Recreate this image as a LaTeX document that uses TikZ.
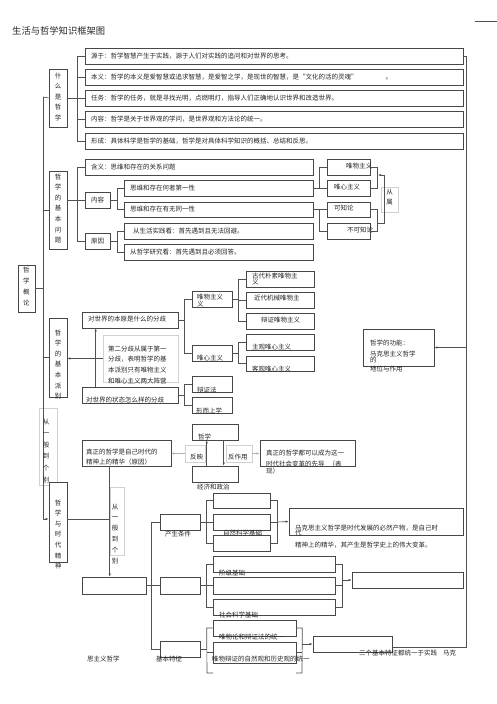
\documentclass[tikz,border=0pt]{standalone}
\usepackage{fontspec}
\setmainfont{Noto Sans CJK SC}
\usetikzlibrary{positioning,fit,shadows,arrows.meta}

% 方框：名称、左上角、右下角
\newcommand{\kuang}[6][]{\node[kuang,#1,fit={(#3,#4) (#5,#6)}] (#2) {};}

\begin{document}
\begin{tikzpicture}[
    x=1pt, y=-1pt,
    kuang/.style={
        draw=black!72,
        line width=0.65pt,
        inner sep=0pt,
        fill=white,
        drop shadow={shadow xshift=0.9pt, shadow yshift=-0.9pt, fill=black!40, opacity=1}
    },
    danke/.style={draw=black!18, line width=0.5pt, inner sep=0pt},
    wen/.style={font=\fontsize{6.5}{8}\selectfont, inner sep=0pt, anchor=west, align=left, text=black!85},
    shu/.style={font=\fontsize{6.5}{10.6}\selectfont, inner sep=0pt, anchor=north, align=center, text=black!85},
    xian/.style={draw=black!68, line width=0.65pt},
    jian/.style={xian, -{Latex[length=3pt,width=2.4pt]}},
    qian/.style={draw=black!30, line width=0.5pt, -{Latex[length=3pt,width=2.4pt]}}
]
\fill[white] (0,0) rectangle (497,704);
\useasboundingbox (0,0) rectangle (497,704);

\node[wen, font=\fontsize{9.3}{11}\selectfont] (biaoti) at (12,31) {生活与哲学知识框架图};
\draw[xian] (475,21) -- (497,21);

% 什么是哲学
\kuang{shenme}{49}{69}{67}{127}
\kuang{yuanyu}{85}{48}{463}{64}
\kuang{benyi}{85}{69}{463}{85}
\kuang{renwu}{85}{90}{463}{106}
\kuang{neirong}{85}{111}{463}{127}
\kuang{xingcheng}{85}{133}{463}{149}

% 哲学的基本问题
\kuang{wenti}{49}{171}{67}{249}
\kuang{hanyi}{85}{159}{313}{175}
\kuang{nr}{85}{192}{110}{208}
\kuang{yy}{85}{233}{110}{249}
\kuang{diyi}{124}{180}{313}{196}
\kuang{tongyi}{124}{202}{313}{217}
\kuang{shijian}{124}{223}{313}{239}
\kuang{yanjiu}{124}{244}{313}{260}
\kuang{weiwu}{327}{159}{370}{175}
\kuang{weixin}{327}{180}{370}{196}
\kuang{kezhi}{327}{202}{370}{217}
\kuang{bukezhi}{327}{223}{370}{239}
\node[danke, fit={(381,187) (398,212)}] (congshu) {};

% 哲学概论
\kuang{gailun}{18}{265}{35}{312}

% 哲学的基本派别
\kuang{paibie}{49}{318}{67}{397}
\kuang{benyuan}{82}{312}{178}{328}
\kuang{zhuangtai}{82}{387}{178}{403}
\node[danke, fit={(103,335) (178,382)}] (fenqi) {};
\kuang{wm}{192}{291}{232}{307}
\kuang{wx}{192}{345}{232}{361}
\kuang{gudai}{246}{271}{314}{287}
\kuang{jindai}{246}{292}{314}{308}
\kuang{bianzheng}{246}{313}{314}{329}
\kuang{zhuguan}{246}{334}{314}{350}
\kuang{keguan}{246}{356}{314}{371}
\kuang{bzf}{192}{376}{232}{392}
\kuang{xesx}{192}{397}{232}{413}
\kuang{gongneng}{363}{329}{434}{366}

% 哲学与时代精神
\node[danke, fit={(39,408) (57,485)}] (yiban) {};
\kuang{zhenzheng}{82}{440}{171}{466}
\kuang{zhexue}{192}{424}{238}{440}
\kuang{jingji}{192}{466}{238}{482}
\node[danke, fit={(185,445) (205,462)}] (fanying) {};
\node[danke, fit={(226,445) (252,462)}] (fanzuoyong) {};
\kuang{xiandao}{260}{440}{355}{466}
\kuang{shidai}{49}{482}{67}{562}
\node[danke, fit={(110,487) (124,555)}] (yiban2) {};
\kuang{makesi}{82}{577}{146}{594}
\kuang{chansheng}{160}{514}{200}{530}
\kuang{zhongjian}{160}{577}{200}{594}
\kuang{tezheng}{160}{641}{200}{657}
\kuang{ka}{213}{493}{270}{508}
\kuang{ziran}{213}{514}{270}{530}
\kuang{kc}{213}{535}{270}{551}
\kuang{biran}{289}{508}{463}{535}
\kuang{jieji}{213}{556}{335}{572}
\kuang{ke}{213}{577}{335}{594}
\kuang{shehui}{213}{599}{335}{615}
\kuang{kj}{352}{572}{463}{588}
\kuang{tongyiA}{213}{620}{296}{636}
\kuang{tongyiB}{213}{642}{296}{663}
\kuang{sange}{313}{636}{392}{652}

% 主干
\coordinate (zhu) at (43,97);
\coordinate (sd-in) at ([yshift=3pt]shidai.west);
\draw[xian] (shenme.west) -- (zhu);
\draw[jian] (zhu) |- (sd-in);
\draw[xian] (wenti.west) -- (wenti.west -| zhu);
\draw[xian] (gailun.east) -- (gailun.east -| zhu);
\draw[xian] (paibie.west) -- (paibie.west -| zhu);

% 什么是哲学的连线
\draw[xian] (yuanyu.west) -- ++(-7,0) |- (xingcheng.west);
\foreach \kk in {benyi,renwu,neirong} \draw[xian] (\kk.west) -- ++(-7,0);
\draw[xian] (shenme.east) -- (shenme.east -| yuanyu.west);
\coordinate (you) at (466,647);
\draw[xian] (yuanyu.east) -| (you) -- (you -| sange.east);
\draw[jian] (gongneng.east -| you) -- (gongneng.east);

% 基本问题的连线
\draw[xian] (hanyi.west) -- ++(-7,0) |- (yy.west);
\draw[xian] (nr.west -| wenti.east) -- (nr.west);
\draw[xian] (diyi.west) -- ++(-6,0) |- (tongyi.west);
\draw[xian] (nr.east) -- ++(8,0);
\draw[xian] (shijian.west) -- ++(-6,0) |- (yanjiu.west);
\draw[xian] (yy.east) -- ++(8,0);
\draw[xian] (diyi.east) -- (weixin.west);
\draw[xian] (weiwu.west) -- ++(-7,0) |- (weixin.west);
\draw[xian] (tongyi.east) -- (kezhi.west);
\draw[xian] (kezhi.west) -- ++(-7,0) |- (bukezhi.west);
\draw[xian] (weiwu.east) -- ++(7,0) |- (weixin.east);
\draw[xian] (kezhi.east) -- ++(7,0) |- (bukezhi.east);
\coordinate (cs-a) at (377,223);
\coordinate (cs-b) at (384,175);
\draw[jian] (cs-a) -- (cs-a -| cs-b) -- (cs-b) -- ++(-6,0);

% 基本派别的连线
\draw[jian] (fenqi.west) -- (fenqi.west -| paibie.east);
\draw[jian] ([xshift=14pt]zhuangtai.north west) -- ([xshift=14pt]benyuan.south west);
\draw[xian] (benyuan.east) -- ++(7,0);
\draw[xian] (wm.west) -- ++(-7,0) |- (wx.west);
\draw[xian] (wm.east) -- ++(7,0);
\draw[xian] (gudai.west) -- ++(-7,0) |- (bianzheng.west);
\draw[xian] (jindai.west) -- ++(-7,0);
\draw[xian] (wx.east) -- ++(7,0);
\draw[xian] (zhuguan.west) -- ++(-7,0) |- (keguan.west);
\draw[xian] (zhuangtai.east) -- ++(7,0);
\draw[xian] (bzf.west) -- ++(-7,0) |- (xesx.west);

% 时代精神的连线
\draw[qian] (fanying.west) -- (fanying.west -| zhenzheng.east);
\draw[qian] (fanzuoyong.east) -- (fanzuoyong.east -| xiandao.west);
\draw[jian] ([xshift=15pt]jingji.north west) -- ([xshift=15pt]zhexue.south west);
\draw[jian] ([xshift=32pt]zhexue.south west) -- ([xshift=32pt]jingji.north west);
\coordinate (xia) at ([xshift=28pt]zhenzheng.south west);
\coordinate (sd-out) at ([yshift=3pt]shidai.east);
\draw[jian] (xia) -- (xia |- makesi.north);
\draw[xian] (sd-out) -- (sd-out -| xia);
\draw[xian] (makesi.east) -- ++(6,0);
\draw[xian] (chansheng.west) -- ++(-8,0) |- (tezheng.west);
\draw[xian] (zhongjian.west) -- ++(-8,0);
\draw[xian] (chansheng.east) -- ++(7,0);
\draw[xian] (ka.west) -- ++(-6,0) |- (kc.west);
\draw[xian] (ziran.west) -- ++(-6,0);
\draw[xian] (ka.east) -- ++(7,0) |- (kc.east);
\draw[jian] ([xshift=7pt]ziran.east) -- (biran.west);
\draw[xian] (ziran.east) -- ++(7,0);
\draw[xian] (zhongjian.east) -- ++(7,0);
\draw[xian] (jieji.west) -- ++(-6,0) |- (shehui.west);
\draw[xian] (ke.west) -- ++(-6,0);
\draw[xian] (jieji.east) -- ++(7,0) |- (shehui.east);
\draw[xian] (ke.east) -- ++(7,0);
\coordinate (jj-r) at ([xshift=7pt]jieji.east);
\draw[jian] (kj.west -| jj-r) -- (kj.west);
\draw[xian] (tezheng.east) -- ++(7,0);
\coordinate (tz-l) at (207,673);
\coordinate (tz-r) at (302,673);
\draw[xian] (tongyiA.west) -- ++(-6,0) -- (tz-l) -- ++(6,0);
\draw[xian] (tongyiB.west) -- ++(-6,0);
\draw[xian] (tongyiA.east) -- ++(6,0) -- (tz-r) -- ++(-6,0);
\draw[xian] (tongyiB.east) -- ++(6,0);
\draw[jian] (sange.west -| tz-r) -- (sange.west);

% 文字
\node[wen] (yuanyu-t) at (91,56) {源于：哲学智慧产生于实践，源于人们对实践的追问和对世界的思考。};
\node[wen] (benyi-t) at (91,77) {本义：哲学的本义是爱智慧或追求智慧，是爱智之学，是现世的智慧，是“文化的活的灵魂”\hspace{28pt}。};
\node[wen] (renwu-t) at (91,98) {任务：哲学的任务，就是寻找光明，点燃明灯，指导人们正确地认识世界和改造世界。};
\node[wen] (neirong-t) at (91,119) {内容：哲学是关于世界观的学问，是世界观和方法论的统一。};
\node[wen] (xingcheng-t) at (91,141) {形成：具体科学是哲学的基础，哲学是对具体科学知识的概括、总结和反思。};

\node[shu] (shenme-t) at (58,72.5) {什\\么\\是\\哲\\学};
\node[shu] (wenti-t) at (58,173.5) {哲\\学\\的\\基\\本\\问\\题};
\node[shu, font=\fontsize{6.5}{11}\selectfont] (gailun-t) at (26.5,266.5) {哲\\学\\概\\论};
\node[shu] (paibie-t) at (58,329.5) {哲\\学\\的\\基\\本\\派\\别};
\node[shu] (shidai-t) at (58,499.5) {哲\\学\\与\\时\\代\\精\\神};
\node[shu, font=\fontsize{6.5}{11.6}\selectfont] (yiban-t) at (46,418.5) {从\\一\\般\\到\\个\\别};
\node[shu, font=\fontsize{6.5}{10.8}\selectfont] (yiban2-t) at (115,503.5) {从\\一\\般\\到\\个\\别};
\node[shu, font=\fontsize{6.5}{10}\selectfont] (congshu-t) at (389.5,188.5) {从\\属};

\node[wen] (hanyi-t) at (91,167) {含义：思维和存在的关系问题};
\node[wen, anchor=center] (nr-t) at (nr) {内容};
\node[wen, anchor=center] (yy-t) at (yy) {原因};
\node[wen] (diyi-t) at (130,188) {思维和存在何者第一性};
\node[wen] (tongyi-t) at (130,209.5) {思维和存在有无同一性};
\node[wen] (shijian-t) at (133,231) {从生活实践看：首先遇到且无法回避。};
\node[wen] (yanjiu-t) at (130,252) {从哲学研究看：首先遇到且必须回答。};
\node[wen] (weiwu-t) at (346,166) {唯物主义};
\node[wen] (weixin-t) at (334,187) {唯心主义};
\node[wen] (kezhi-t) at (334,208) {可知论};
\node[wen] (bukezhi-t) at (347,230) {不可知论};

\node[wen] (benyuan-t) at (88,319) {对世界的本原是什么的分歧};
\node[wen] (zhuangtai-t) at (86,400) {对世界的状态怎么样的分歧};
\node[wen, anchor=north west, font=\fontsize{6.5}{10.7}\selectfont] (fenqi-t) at (108,345.5)
    {第二分歧从属于第一\\分歧，表明哲学的基\\本派别只有唯物主义\\和唯心主义两大阵营};
\node[wen, anchor=north west, font=\fontsize{6.5}{7.5}\selectfont] (wm-t) at (197,293.5) {唯物主义\\义};
\node[wen] (wx-t) at (197,358) {唯心主义};
\node[wen, anchor=north west, font=\fontsize{6.5}{6.5}\selectfont] (gudai-t) at (252,272.5) {古代朴素唯物主\\义};
\node[wen] (jindai-t) at (254,298) {近代机械唯物主};
\node[wen] (bianzheng-t) at (261,320) {辩证唯物主义};
\node[wen] (zhuguan-t) at (252,347) {主观唯心主义};
\node[wen] (keguan-t) at (252,369) {客观唯心主义};
\node[wen] (bzf-t) at (197,390) {辩证法};
\node[wen] (xesx-t) at (196,411) {形而上学};
\node[wen, anchor=north west] (gongneng-t) at (370,339.5)
    {哲学的功能：\\[3pt]马克思主义哲学\\[-2pt]的\\[1pt]地位与作用};

\node[wen, font=\fontsize{6.5}{10}\selectfont] (zhenzheng-t) at (86,457) {真正的哲学是自己时代的\\精神上的精华（原因）};
\node[wen] (zhexue-t) at (198,437) {哲学};
\node[wen] (jingji-t) at (197,487) {经济和政治};
\node[wen] (fanying-t) at (190,457) {反映};
\node[wen] (fanzuoyong-t) at (228,457) {反作用};
\node[wen, anchor=north west] (xiandao-t) at (266,449.5)
    {真正的哲学都可以成为这一\\[3pt]时代社会变革的先导\hspace{4pt}（表\\[-1pt]现）};

\node[wen] (mzy-t) at (87,659) {思主义哲学};
\node[wen, anchor=center] (chansheng-t) at (178,534) {产生条件};
\node[wen, anchor=center] (tezheng-t) at (169,659) {基本特征};
\node[wen] (ziran-t) at (223,533) {自然科学基础};
\node[wen, anchor=north west] (biran-t) at (295,524.5)
    {马克思主义哲学是时代发展的必然产物，是自己时\\[-3pt]代\\[4pt]精神上的精华，其产生是哲学史上的伟大变革。};
\node[wen] (jieji-t) at (219,573) {阶级基础};
\node[wen] (shehui-t) at (219,615) {社会科学基础};
\node[wen] (tongyiA-t) at (219,637) {唯物论和辩证法的统一};
\node[wen] (tongyiB-t) at (212,659) {唯物辩证的自然观和历史观的统一};
\node[wen] (sange-t) at (359,653) {三个基本特征都统一于实践\hspace{6pt}马克};

\end{tikzpicture}
\end{document}
